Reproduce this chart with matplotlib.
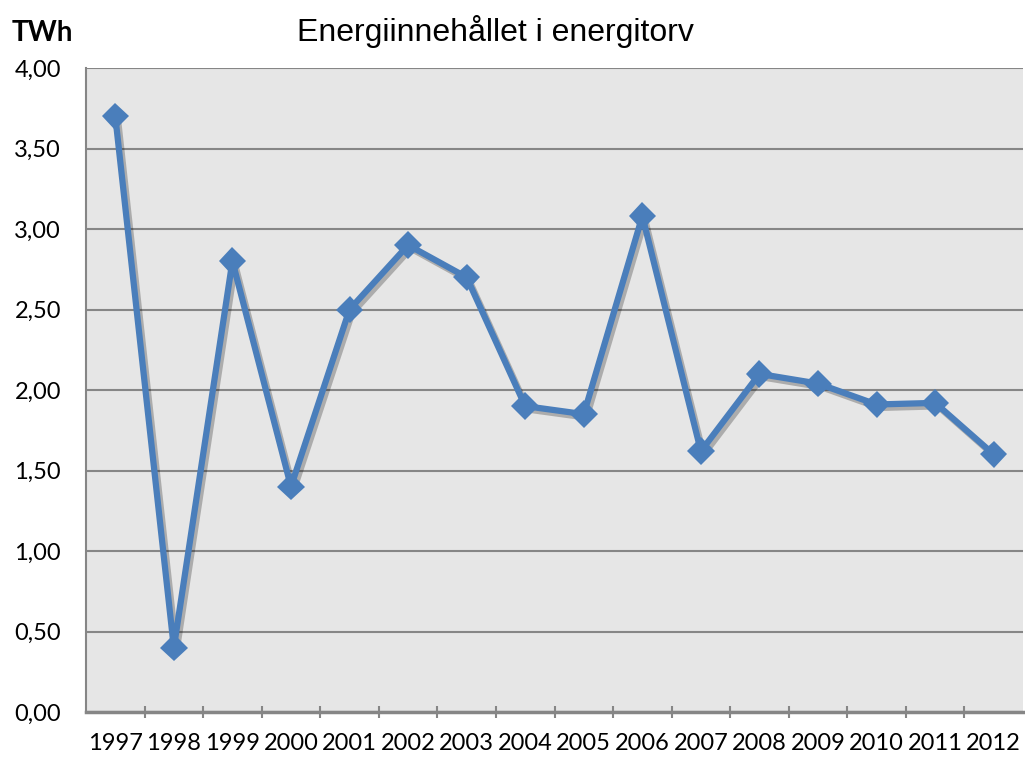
import numpy as np
import matplotlib.pyplot as plt
import matplotlib.patheffects as pe

years = ['1997', '1998', '1999', '2000', '2001', '2002', '2003', '2004',
         '2005', '2006', '2007', '2008', '2009', '2010', '2011', '2012']
twh = [3.70, 0.40, 2.80, 1.40, 2.50, 2.90, 2.70, 1.90,
       1.85, 3.08, 1.62, 2.10, 2.04, 1.91, 1.92, 1.60]

fig = plt.figure(figsize=(10.25, 7.58), dpi=100)
ax = fig.add_axes([86/1025, 46/758, 937/1025, 644/758])
ax.set_facecolor('#e6e6e6')

x = np.arange(len(years))
shadow = [pe.SimpleLineShadow(offset=(2, -2.5), shadow_color='black', alpha=0.25), pe.Normal()]
ax.plot(x, twh, color='#4a7ebb', lw=4.5, marker='D', ms=14, mfc='#4a7ebb', mec='#4a7ebb',
        mew=0, path_effects=shadow, zorder=3)

ax.set_xlim(-0.5, len(years) - 0.5)
ax.set_ylim(0, 4)
ax.set_yticks(np.arange(0, 4.01, 0.5))
ax.yaxis.set_major_formatter(plt.FuncFormatter(lambda v, p: ('%.2f' % v).replace('.', ',')))
ax.grid(axis='y', color='#868686', lw=1.5)
ax.set_axisbelow(True)

ax.set_xticks(x)
ax.set_xticklabels(years)
ax.set_xticks(np.arange(0.5, len(years) - 0.5), minor=True)
ax.tick_params(axis='x', which='major', length=0, pad=15)
ax.tick_params(axis='x', which='minor', length=8, width=1.5, color='#868686', direction='inout')
ax.tick_params(axis='y', length=0, pad=18)
for lab in ax.get_xticklabels() + ax.get_yticklabels():
    lab.set_fontfamily('Lato')
    lab.set_fontsize(17)

for side in ['top', 'right']:
    ax.spines[side].set_visible(False)
ax.spines['left'].set_color('#868686')
ax.spines['left'].set_linewidth(1.5)
ax.spines['bottom'].set_color('#868686')
ax.spines['bottom'].set_linewidth(2.5)

fig.text(12/1025, 1 - 33/758, 'TWh', fontsize=20, fontweight='bold', family='Lato', va='center')
fig.text(495/1025, 1 - 31/758, 'Energiinnehållet i energitorv', fontsize=23,
         family='Liberation Sans', ha='center', va='center')

fig.savefig('out.png', dpi=100)
